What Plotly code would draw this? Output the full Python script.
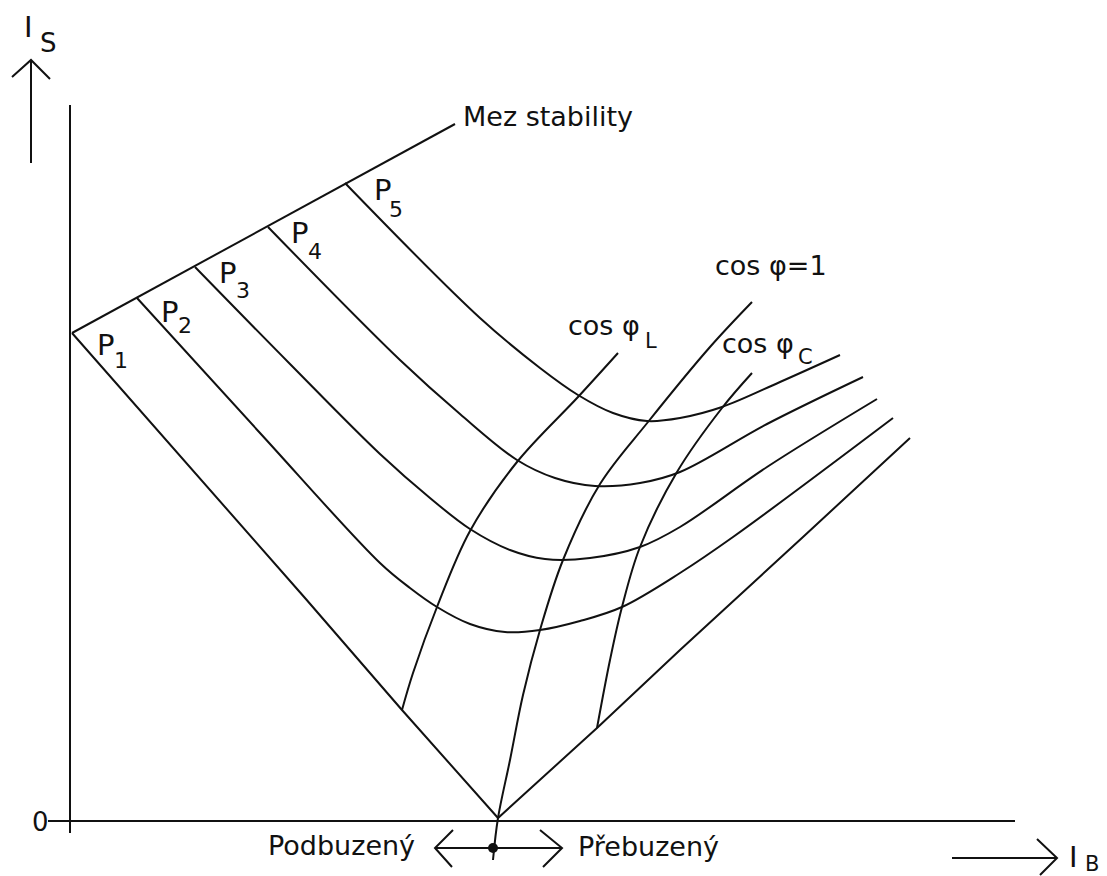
import plotly.graph_objects as go

# V-curves of a synchronous machine: stator current I_S versus field current I_B
# for loads P1..P5, with the stability limit and lines of constant power factor.

stability_x = [72, 455]
stability_y = [333, 124]

p1_x = [72, 305, 402, 498, 597, 680, 803, 910]
p1_y = [333, 598, 710, 818, 728, 650, 537, 438]

p2_x = [137, 260, 380, 410, 437, 470, 505, 540, 580, 622, 680, 733, 893]
p2_y = [298, 433, 563, 588, 607, 624, 632, 630, 621, 607, 573, 537, 418]

p3_x = [195, 290, 380, 430, 470, 510, 545, 590, 640, 680, 767, 877]
p3_y = [267, 364, 454, 498, 529, 550, 559, 558, 547, 527, 467, 399]

p4_x = [268, 400, 460, 517, 555, 595, 640, 680, 767, 863]
p4_y = [227, 360, 414, 460, 478, 486, 483, 472, 424, 377]

p5_x = [345, 480, 540, 578, 613, 647, 680, 722, 780, 840]
p5_y = [183, 318, 368, 395, 413, 421, 418, 407, 382, 355]

cos_l_x = [402, 413, 437, 470, 517, 578, 618]
cos_l_y = [710, 673, 607, 531, 462, 397, 353]

cos_1_x = [493, 498, 510, 523, 540, 563, 600, 648, 710, 752]
cos_1_y = [860, 818, 760, 695, 630, 560, 484, 422, 347, 302]

cos_c_x = [597, 610, 622, 640, 677, 722, 752]
cos_c_y = [728, 660, 607, 547, 472, 408, 373]

# operating point marked between the under- and over-excited regions
unity_point_x = [493]
unity_point_y = [848]

INK = "#111111"
FONT = "DejaVu Sans"

fig = go.Figure()


def curve(xs, ys, smooth=True):
    fig.add_trace(go.Scatter(
        x=xs, y=ys, mode="lines",
        line=dict(color=INK, width=2, shape="spline" if smooth else "linear",
                  smoothing=1.0),
        hoverinfo="skip", showlegend=False,
    ))


curve(stability_x, stability_y, smooth=False)
curve(p1_x, p1_y, smooth=False)
for xs, ys in [(p2_x, p2_y), (p3_x, p3_y), (p4_x, p4_y), (p5_x, p5_y),
               (cos_l_x, cos_l_y), (cos_1_x, cos_1_y), (cos_c_x, cos_c_y)]:
    curve(xs, ys)

fig.add_trace(go.Scatter(
    x=unity_point_x, y=unity_point_y, mode="markers",
    marker=dict(color=INK, size=10), hoverinfo="skip", showlegend=False,
))

line_style = dict(color=INK, width=2)
shapes = [
    # coordinate axes
    dict(type="line", x0=70, y0=105, x1=70, y1=833, line=line_style),
    dict(type="line", x0=48, y0=821, x1=1015, y1=821, line=line_style),
    # I_S direction arrow
    dict(type="path", path="M 31 163 L 31 60 M 12 77 L 31 60 L 50 79", line=line_style),
    # I_B direction arrow
    dict(type="path", path="M 952 858 L 1057 858 M 1037 839 L 1057 858 L 1040 875", line=line_style),
    # double arrow: under-excited <-> over-excited
    dict(type="path", path="M 435 848 L 562 848 M 453 830 L 435 848 L 452 867 "
                           "M 540 830 L 562 848 L 543 867", line=line_style),
]


def label(text, x, y, size, anchor="left"):
    return dict(text=text, x=x, y=y, xref="x", yref="y", showarrow=False,
                xanchor=anchor, yanchor="middle",
                font=dict(family=FONT, size=size, color=INK))


annotations = [
    label("Mez stability", 461, 116, 27),
    label("Podbuzený", 266, 845, 27),
    label("Přebuzený", 576, 846, 27),
    label("0", 40, 822, 26, "center"),
    label("I", 28, 27, 29, "center"),
    label("S", 48, 43, 26, "center"),
    label("I", 1073, 857, 29, "center"),
    label("B", 1092, 864, 21, "center"),
    label("cos φ=1", 713, 265, 27),
    label("cos φ", 566, 325, 27),
    label("L", 643, 341, 21),
    label("cos φ", 720, 343, 27),
    label("C", 796, 357, 21),
]

p_labels = [("1", 106, 345, 121, 360), ("2", 170, 312, 185, 325),
            ("3", 228, 273, 243, 290), ("4", 300, 233, 315, 251),
            ("5", 383, 190, 396, 209)]
for idx, px, py, sx, sy in p_labels:
    annotations.append(label("P", px, py, 29, "center"))
    annotations.append(label(idx, sx, sy, 22, "center"))

fig.update_layout(
    width=1107, height=876,
    margin=dict(l=0, r=0, t=0, b=0),
    paper_bgcolor="white", plot_bgcolor="white",
    xaxis=dict(range=[0, 1107], visible=False, fixedrange=True),
    yaxis=dict(range=[876, 0], visible=False, fixedrange=True),
    shapes=shapes,
    annotations=annotations,
    showlegend=False,
)

fig.write_html("out.html")
